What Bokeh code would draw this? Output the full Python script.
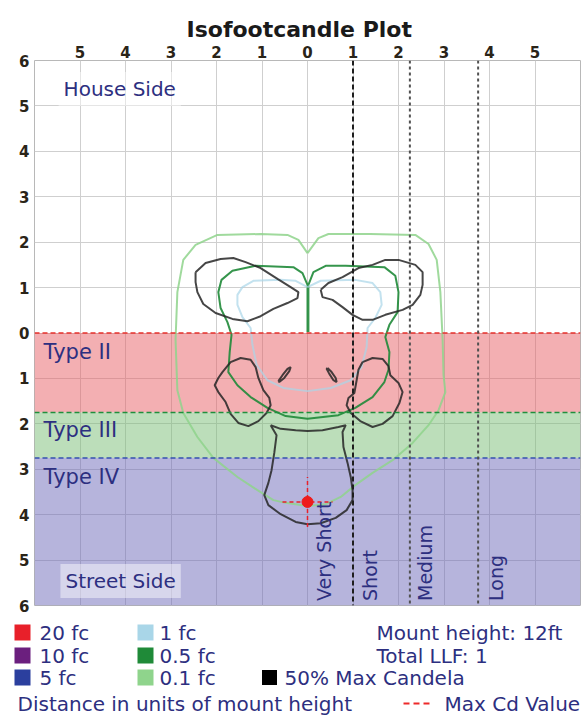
import math
from bokeh.plotting import figure
from bokeh.models import Range1d, FixedTicker, Span
from bokeh.embed import file_html
from bokeh.resources import INLINE
from bokeh.core.properties import value

# ---------------- data ----------------
title_text = "Isofootcandle Plot"
x_ticks = [-5, -4, -3, -2, -1, 0, 1, 2, 3, 4, 5]
y_ticks = [-6, -5, -4, -3, -2, -1, 0, 1, 2, 3, 4, 5, 6]
grid_ticks = [-6, -5, -4, -3, -2, -1, 0, 1, 2, 3, 4, 5, 6]

# 0.1 fc contour
fc01_x = [0.0, 0.24, 0.46, 1.38, 2.37, 2.66, 2.84, 2.92, 2.97, 2.99, 3.03, 2.88, 2.66, 2.31, 1.87, 1.43,
          1.05, 0.73, 0.40, 0.0, -0.48, -0.75, -1.10, -1.54, -2.07, -2.42, -2.73, -2.86, -2.90, -2.86,
          -2.73, -2.46, -1.98, -1.03, -0.44, -0.20, 0.0]
fc01_y = [1.76, 2.09, 2.18, 2.18, 2.16, 1.96, 1.61, 0.90, -0.15, -0.93, -1.30, -1.70, -2.03, -2.42, -2.80,
          -3.08, -3.35, -3.61, -3.77, -3.81, -3.74, -3.68, -3.46, -3.17, -2.75, -2.29, -1.76, -1.26, -0.15,
          0.90, 1.61, 1.94, 2.16, 2.18, 2.16, 2.05, 1.76]

# 0.5 fc contour
fc05_x = [0.0, 0.0, -0.11, -0.31, -1.14, -1.65, -1.89, -1.96, -1.91, -1.76, -1.67, -1.71, -1.74, -1.54,
          -1.25, -0.88, -0.48, 0.0, 0.68, 1.05, 1.43, 1.69, 1.78, 1.80, 1.71, 1.80, 1.98, 2.00, 1.93, 1.69,
          0.84, 0.40, 0.13, 0.02, 0.02]
fc05_y = [0.02, 1.06, 1.32, 1.45, 1.48, 1.37, 1.17, 0.90, 0.55, 0.24, -0.04, -0.42, -0.86, -1.15, -1.41,
          -1.65, -1.83, -1.89, -1.81, -1.65, -1.41, -1.08, -0.81, -0.42, -0.09, 0.18, 0.46, 0.90, 1.26, 1.45,
          1.48, 1.48, 1.34, 1.06, 0.02]

# 1 fc contour
fc1_x = [0.0, -0.26, -0.59, -1.19, -1.43, -1.54, -1.54, -1.43, -1.25, -1.21, -1.12, -0.88, -0.53, 0.0,
         0.51, 0.95, 1.19, 1.30, 1.32, 1.49, 1.63, 1.60, 1.43, 1.05, 0.29, 0.0]
fc1_y = [1.01, 1.15, 1.17, 1.15, 1.01, 0.84, 0.62, 0.35, 0.11, -0.26, -0.70, -1.04, -1.21, -1.28, -1.21,
         -1.04, -0.75, -0.31, 0.11, 0.33, 0.62, 0.90, 1.10, 1.17, 1.15, 1.01]

# 50% max candela contours
cd50_ul_x = [-2.46, -2.24, -1.91, -1.63, -1.36, -1.03, -0.66, -0.37, -0.20, -0.22, -0.44, -0.75, -1.03,
             -1.32, -1.65, -2.02, -2.29, -2.42, -2.46, -2.46]
cd50_ul_y = [1.34, 1.54, 1.63, 1.65, 1.56, 1.43, 1.19, 1.01, 0.90, 0.77, 0.66, 0.53, 0.37, 0.26, 0.31,
             0.44, 0.64, 0.90, 1.12, 1.34]
cd50_ur_x = [0.29, 0.46, 0.77, 1.12, 1.43, 1.71, 2.00, 2.37, 2.53, 2.53, 2.48, 2.31, 2.09, 1.71, 1.43,
             1.21, 0.99, 0.77, 0.55, 0.33, 0.29]
cd50_ur_y = [0.95, 1.10, 1.23, 1.43, 1.50, 1.61, 1.61, 1.50, 1.34, 1.06, 0.84, 0.62, 0.51, 0.40, 0.29,
             0.29, 0.40, 0.57, 0.73, 0.79, 0.95]
cd50_ll_x = [-1.87, -1.69, -1.47, -1.25, -1.14, -1.08, -0.97, -0.84, -0.81, -0.90, -1.08, -1.30, -1.52,
             -1.69, -1.80, -1.96, -2.04, -1.96, -1.87]
cd50_ll_y = [-0.86, -0.64, -0.55, -0.59, -0.75, -0.99, -1.26, -1.43, -1.59, -1.76, -1.94, -2.05, -1.98,
             -1.78, -1.52, -1.30, -1.15, -0.99, -0.86]
cd50_lr_x = [1.21, 1.43, 1.65, 1.78, 1.82, 2.00, 2.09, 2.02, 1.87, 1.65, 1.43, 1.16, 0.95, 0.86, 0.90,
             1.03, 1.08, 1.12, 1.21]
cd50_lr_y = [-0.64, -0.55, -0.57, -0.73, -0.93, -1.10, -1.30, -1.54, -1.83, -2.00, -2.07, -1.94, -1.76,
             -1.59, -1.43, -1.32, -1.04, -0.81, -0.64]
cd50_el_x = [-0.64, -0.55, -0.44, -0.37, -0.40, -0.51, -0.62, -0.64]
cd50_el_y = [-1.06, -0.93, -0.79, -0.75, -0.84, -0.99, -1.08, -1.06]
cd50_er_x = [0.44, 0.53, 0.62, 0.64, 0.57, 0.48, 0.42, 0.44]
cd50_er_y = [-0.77, -0.86, -0.99, -1.08, -1.04, -0.90, -0.79, -0.77]
cd50_bag_x = [-0.81, -0.59, -0.26, 0.0, 0.33, 0.68, 0.84, 0.77, 0.79, 0.88, 0.95, 0.99, 0.99, 0.86, 0.62,
              0.29, 0.0, -0.26, -0.59, -0.86, -0.95, -0.86, -0.79, -0.73, -0.68, -0.81]
cd50_bag_y = [-2.03, -2.11, -2.14, -2.16, -2.14, -2.07, -2.03, -2.18, -2.51, -2.86, -3.17, -3.46, -3.68,
              -3.90, -4.07, -4.19, -4.21, -4.16, -3.99, -3.79, -3.57, -3.30, -3.02, -2.64, -2.25, -2.03]

max_cd_x = [0.0]
max_cd_y = [-3.72]
max_cd_span = 0.55

zone_names = ["Type II", "Type III", "Type IV"]
zone_top = [0.0, -1.75, -2.75]
zone_bottom = [-1.75, -2.75, -6.0]
zone_label_y = [-0.42, -2.14, -3.17]

throw_limits = [1.0, 2.25, 3.75]
throw_names = ["Very Short", "Short", "Medium", "Long"]
throw_label_x = [0.37, 1.37, 2.59, 4.14]

side_names = ["House Side", "Street Side"]
side_label_x = [-5.47, -5.43]
side_label_y = [5.37, -5.46]

legend_col1 = ["20 fc", "10 fc", "5 fc"]
legend_col2 = ["1 fc", "0.5 fc", "0.1 fc"]
legend_col3 = ["50% Max Candela"]
info_lines = ["Mount height: 12ft", "Total LLF: 1"]
footer_text = "Distance in units of mount height"
max_cd_label = "Max Cd Value"

# ---------------- style ----------------
FONT = "DejaVu Sans"
TXT = "#2d2f80"
C_01 = "#8fd48c"
C_05 = "#1f8a38"
C_1 = "#a9d6e8"
C_20 = "#e8202a"
C_10 = "#6b1f7e"
C_5 = "#2b3f9e"
ZONE_FILL = ["#e75f65", "#79bd75", "#6d69b9"]
ZONE_LINE = ["#e8322c", "#1f8f3c", "#3450b0"]

p = figure(width=582, height=615, frame_width=546, frame_height=545,
           x_range=Range1d(-6, 6), y_range=Range1d(-6, 6),
           x_axis_location="above", toolbar_location=None, output_backend="svg",
           min_border_left=34, min_border_right=2, min_border_top=60, min_border_bottom=10,
           background_fill_color="white", border_fill_color="white")

p.title.text = title_text
p.title.align = "left"
p.title.text_font = FONT
p.title.text_font_size = "22px"
p.title.text_font_style = "bold"
p.title.text_color = "#1a1a1a"
p.title.offset = 152
p.title.standoff = 1

for ax in (p.xaxis[0], p.yaxis[0]):
    ax.major_tick_in = 0
    ax.major_tick_out = 0
    ax.minor_tick_in = 0
    ax.minor_tick_out = 0
    ax.axis_line_color = None
    ax.major_label_text_font = FONT
    ax.major_label_text_font_size = "15px"
    ax.major_label_text_font_style = "bold"
    ax.major_label_text_color = "#2a2418"
p.xaxis[0].ticker = FixedTicker(ticks=x_ticks)
p.xaxis[0].major_label_overrides = {t: str(abs(t)) for t in x_ticks}
p.xaxis[0].major_label_standoff = 3
p.yaxis[0].ticker = FixedTicker(ticks=y_ticks)
p.yaxis[0].major_label_overrides = {t: str(abs(t)) for t in y_ticks}
p.yaxis[0].major_label_standoff = 5

p.xgrid.ticker = FixedTicker(ticks=grid_ticks)
p.ygrid.ticker = FixedTicker(ticks=grid_ticks)
p.grid.grid_line_color = "#cfcfcf"
p.outline_line_color = "#b8b8b8"

# zone bands
p.quad(left=-6, right=6, top=zone_top, bottom=zone_bottom, fill_color=ZONE_FILL,
       fill_alpha=0.5, line_color=None)

# contours
p.line(fc01_x, fc01_y, line_color=C_01, line_width=2, line_alpha=0.85)
p.line(fc05_x, fc05_y, line_color=C_05, line_width=2, line_alpha=0.9)
p.line(fc1_x, fc1_y, line_color=C_1, line_width=2, line_alpha=0.7)
p.multi_line([cd50_ul_x, cd50_ur_x, cd50_ll_x, cd50_lr_x, cd50_el_x, cd50_er_x, cd50_bag_x],
             [cd50_ul_y, cd50_ur_y, cd50_ll_y, cd50_lr_y, cd50_el_y, cd50_er_y, cd50_bag_y],
             line_color="#262626", line_width=2, line_alpha=0.85)

# max candela crosshair
mx, my = max_cd_x[0], max_cd_y[0]
p.segment(x0=[mx - max_cd_span, mx], y0=[my, my - max_cd_span],
          x1=[mx + max_cd_span, mx], y1=[my, my + max_cd_span],
          line_color="#e8202a", line_width=1.5, line_dash="4 3")
p.scatter(max_cd_x, max_cd_y, size=11, color="#ee1c1c")

# zone boundary lines
for loc, col in zip(zone_top, ZONE_LINE):
    p.add_layout(Span(location=loc, dimension="width", line_color=col, line_width=1.5,
                      line_dash="5 3"))

# throw lines
for i, loc in enumerate(throw_limits):
    p.add_layout(Span(location=loc, dimension="height", line_color="#1e1e1e" if i == 0 else "#505050",
                      line_width=2, line_dash="5 3" if i == 0 else "3 3"))

# texts
p.text(x=[-5.8] * 3, y=zone_label_y, text=zone_names, text_font=value(FONT), text_font_size="21px",
       text_color=TXT, text_baseline="middle", text_align="left")
p.text(x=side_label_x, y=side_label_y, text=side_names, text_font=value(FONT), text_font_size="20px",
       text_color=TXT, text_baseline="middle", text_align="left",
       background_fill_color="white", background_fill_alpha=0.45, padding=5)
p.text(x=throw_label_x, y=[-5.9] * 4, text=throw_names, angle=math.pi / 2, text_font=value(FONT),
       text_font_size="19px", text_color=TXT, text_baseline="middle", text_align="left")

# ---------------- legend panel (coordinates = page pixels) ----------------
TOP = 615
LH = 717 - TOP
leg = figure(width=582, height=LH, x_range=Range1d(0, 582), y_range=Range1d(717, TOP),
             x_axis_type=None, y_axis_type=None,
             toolbar_location=None, output_backend="svg", min_border=0,
             background_fill_color="white", border_fill_color="white")
leg.grid.visible = False
leg.outline_line_color = None

row_y = [632, 655, 677]
foot_y = 703
leg.rect(x=[22] * 3, y=row_y, width=16, height=16, fill_color=[C_20, C_10, C_5], line_color=None)
leg.rect(x=[145] * 3, y=row_y, width=16, height=16, fill_color=[C_1, C_05, C_01], line_color=None)
leg.rect(x=[269], y=[row_y[2]], width=15, height=15, fill_color="black", line_color=None)
leg.line(x=[403, 433], y=[foot_y, foot_y], line_color="#ee2a2a", line_width=2, line_dash="6 4")
common = dict(text_font=value(FONT), text_font_size="20px", text_color=TXT, text_baseline="middle",
              text_align="left")
leg.text(x=[39] * 3, y=row_y, text=legend_col1, **common)
leg.text(x=[159] * 3, y=row_y, text=legend_col2, **common)
leg.text(x=[284], y=[row_y[2]], text=legend_col3, **common)
leg.text(x=[376] * 2, y=row_y[:2], text=info_lines, **common)
leg.text(x=[17], y=[foot_y], text=[footer_text], **common)
leg.text(x=[444], y=[foot_y], text=[max_cd_label], **common)

open("out.html", "w").write(file_html([p, leg], INLINE))
